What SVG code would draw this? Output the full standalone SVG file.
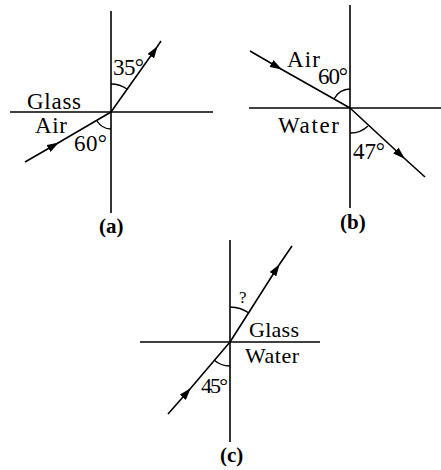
<svg xmlns="http://www.w3.org/2000/svg" width="441" height="470" viewBox="0 0 441 470">
<style>
.ln{stroke:#000;stroke-width:1.6;fill:none}
.ray{stroke:#000;stroke-width:1.6;fill:none;marker-mid:url(#ah)}
.arc{stroke:#000;stroke-width:1.3;fill:none}
text{font-family:"Liberation Serif","Times New Roman",serif;font-size:23px;fill:#000}
.sm{font-size:22px}
.cap{font-weight:bold;font-size:21px}
.q{font-size:17px}
</style>
<defs>
<marker id="ah" viewBox="0 0 12 8" refX="11" refY="4" markerWidth="12" markerHeight="8" markerUnits="userSpaceOnUse" orient="auto">
<path d="M0,0 L12,4 L0,8 z" fill="#000"/>
</marker>
</defs>
<rect width="441" height="470" fill="#fff"/>
<g id="connectors">
<path class="ln" d="M111,11 V213"/>
<path class="ln" d="M10,112 H213"/>
<path class="ray" d="M25,162 L58,143 L111,112"/>
<path class="ray" d="M111,112 L157,47 L161,41"/>
<path class="arc" d="M111,84 A28,28 0 0 1 127,89"/>
<path class="arc" d="M97,121 A17,17 0 0 0 111,129"/>
<path class="ln" d="M350,5 V208"/>
<path class="ln" d="M249,108 H441"/>
<path class="ray" d="M250,51 L281,69 L350,108"/>
<path class="ray" d="M350,108 L404,158 L425,177"/>
<path class="arc" d="M334,99 A19,19 0 0 1 350,89"/>
<path class="arc" d="M350,133 A25,25 0 0 0 368,126"/>
<path class="ln" d="M230,240 V442"/>
<path class="ln" d="M140,342 H320"/>
<path class="ray" d="M168,414 L190,389 L230,342"/>
<path class="ray" d="M230,342 L279,265 L292,246"/>
<path class="arc" d="M230,307 A35,35 0 0 1 249,313"/>
<path class="arc" d="M214,360 A24,24 0 0 0 230,366"/>
</g>
<g id="fig-a">
<text x="27" y="109" textLength="54">Glass</text>
<text x="35" y="133" textLength="32">Air</text>
<text x="74" y="151" textLength="33">60°</text>
<text x="113" y="75" textLength="31">35°</text>
<text class="cap" x="99" y="233">(a)</text>
</g>
<g id="fig-b">
<text x="287" y="67" textLength="33">Air</text>
<text x="318" y="84" textLength="30">60°</text>
<text x="278" y="133" textLength="61">Water</text>
<text x="353" y="159" textLength="32">47°</text>
<text class="cap" x="340" y="229">(b)</text>
</g>
<g id="fig-c">
<text class="q" x="239" y="303">?</text>
<text class="sm" x="249" y="337" textLength="50">Glass</text>
<text class="sm" x="245" y="363" textLength="54">Water</text>
<text class="sm" x="201" y="393" textLength="27">45°</text>
<text class="cap" x="220" y="462">(c)</text>
</g>
</svg>
